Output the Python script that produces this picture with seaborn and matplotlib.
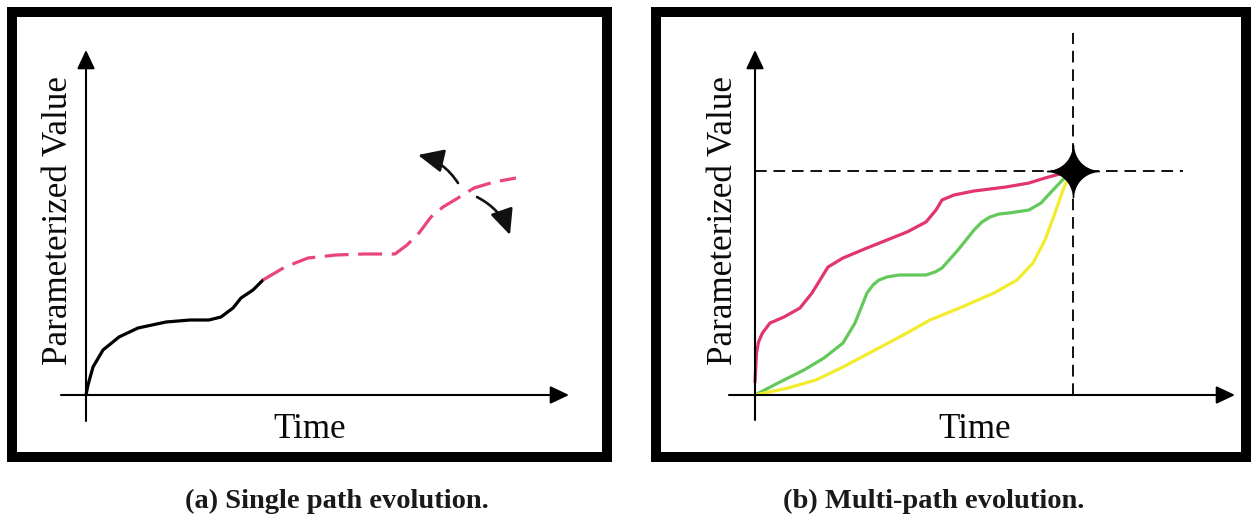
import numpy as np
import seaborn as sns
import matplotlib.pyplot as plt
from matplotlib.path import Path

# panel (a): one path, solid part is the history, dashed part is the prediction
hist_t = [0, 0.2, 0.7, 1.7, 3.3, 5.2, 8.0, 10.4, 12.3, 13.5, 14.7, 15.5, 16.7, 17.7]
hist_v = [0, 1.0, 2.8, 4.5, 5.8, 6.7, 7.3, 7.5, 7.5, 7.8, 8.7, 9.7, 10.5, 11.5]
pred_t = [17.7, 19.9, 22.2, 25.0, 27.8, 30.9, 32.1, 33.3, 34.5, 35.7, 37.2, 38.8, 40.8, 43.0]
pred_v = [11.5, 12.8, 13.7, 14.0, 14.1, 14.1, 15.0, 16.2, 17.8, 18.8, 19.7, 20.7, 21.3, 21.7]

# panel (b): three paths that end in the same target
red_t = [0.0, 0.15, 0.35, 0.74, 1.5, 2.9, 4.5, 5.7, 7.3, 8.8, 11.2, 13.2, 15.2, 17.1, 18.1,
         18.7, 19.9, 21.9, 25.1, 27.4, 29.0, 31.6]
red_v = [1.3, 4.2, 5.3, 6.2, 7.2, 7.8, 8.7, 10.2, 12.8, 13.7, 14.7, 15.5, 16.3, 17.3, 18.5,
         19.5, 20.0, 20.4, 20.8, 21.2, 21.7, 22.4]
green_t = [0, 2.5, 4.9, 6.9, 8.8, 10.0, 11.2, 11.8, 12.4, 13.2, 14.4, 17.1, 18.0, 18.7, 20.3,
           21.9, 22.7, 23.5, 24.4, 25.4, 27.4, 28.6, 29.8, 31.6]
green_v = [0, 1.3, 2.5, 3.7, 5.2, 7.2, 10.2, 11.0, 11.5, 11.8, 12.0, 12.0, 12.3, 12.7, 14.5,
           16.5, 17.3, 17.8, 18.1, 18.2, 18.5, 19.2, 20.5, 22.4]
yellow_t = [0, 3.3, 6.1, 8.8, 12.0, 15.2, 17.5, 20.7, 23.9, 26.2, 27.8, 29.0, 30.0, 30.8, 31.6]
yellow_v = [0, 0.7, 1.5, 2.8, 4.5, 6.2, 7.5, 8.8, 10.2, 11.5, 13.2, 15.5, 18.2, 20.5, 22.4]
target_t = 31.8
target_v = 22.4

captions = ["(a) Single path evolution.", "(b) Multi-path evolution."]

sns.set_theme(style="white")
plt.rcParams['font.family'] = ['Liberation Serif', 'DejaVu Serif']
plt.rcParams['lines.solid_joinstyle'] = 'round'
plt.rcParams['lines.solid_capstyle'] = 'round'

W, H = 1251, 515
fig = plt.figure(figsize=(W / 100, H / 100), dpi=100)
fig.patch.set_facecolor('white')


def make_panel(left, right, top, bottom, ox, oy):
    # frame centre lines in pixels, origin of the drawn axes in pixels
    ax = fig.add_axes([left / W, (H - bottom) / H, (right - left) / W, (bottom - top) / H])
    ax.set_xlim((left - ox) / 10, (right - ox) / 10)
    ax.set_ylim((oy - bottom) / 10, (oy - top) / 10)
    ax.set_xticks([])
    ax.set_yticks([])
    ax.set_facecolor('white')
    for sp in ax.spines.values():
        sp.set_visible(True)
        sp.set_color('black')
        sp.set_linewidth(7.2)
    return ax


def draw_axes(ax, x0, x1, y0, y1, ylab_x, time_x):
    head = dict(arrowstyle='-|>,head_length=0.95,head_width=0.45', lw=1.5,
                color='black', shrinkA=0, shrinkB=0, mutation_scale=12)
    ax.annotate('', xy=(x1, 0), xytext=(x0, 0), arrowprops=head)
    ax.annotate('', xy=(0, y1), xytext=(0, y0), arrowprops=head)
    ax.text(ylab_x, 17.5, 'Parameterized Value', rotation=90, fontsize=25.2,
            ha='center', va='center', color='#0a0a0a')
    ax.text(time_x, -4.3, 'Time', fontsize=25.2, ha='center', va='baseline',
            color='#0a0a0a')


# ---- panel (a)
ax1 = make_panel(12, 607, 12, 457, 86, 395)
draw_axes(ax1, -2.5, 48.3, -2.6, 34.5, -2.75, 22.4)
sns.lineplot(x=hist_t, y=hist_v, ax=ax1, color='black', lw=2.3,
             estimator=None, sort=False)
sns.lineplot(x=pred_t, y=pred_v, ax=ax1, color='#e8457c', lw=2.3,
             estimator=None, sort=False)
ax1.lines[-1].set_dashes((7.5, 3.0))
ax1.lines[-1].set_dash_capstyle('butt')

bend = dict(arrowstyle='-|>,head_length=1.2,head_width=0.55', lw=1.9,
            color='#111111', shrinkA=0, shrinkB=0, mutation_scale=13)
ax1.annotate('', xy=(33.2, 24.0), xytext=(37.2, 21.2),
             arrowprops=dict(bend, connectionstyle='arc3,rad=0.2'))
ax1.annotate('', xy=(42.4, 16.0), xytext=(39.1, 19.8),
             arrowprops=dict(bend, connectionstyle='arc3,rad=-0.2'))

# ---- panel (b)
ax2 = make_panel(656, 1245.5, 12, 457, 755, 395)
draw_axes(ax2, -2.6, 48.0, -2.5, 34.5, -3.1, 22.0)

ax2.plot([target_t, target_t], [0, 36.2], color='#111111', lw=1.4, dashes=(6, 3.5))
ax2.plot([0, 42.8], [target_v, target_v], color='#111111', lw=1.4, dashes=(6, 3.5))

sns.lineplot(x=red_t, y=red_v, ax=ax2, color='#e2356b', lw=2.3, estimator=None, sort=False)
sns.lineplot(x=green_t, y=green_v, ax=ax2, color='#62c95a', lw=2.3, estimator=None, sort=False)
sns.lineplot(x=yellow_t, y=yellow_v, ax=ax2, color='#f2ec2c', lw=2.3, estimator=None, sort=False)

# four point star for the target
ang = np.linspace(0, 2 * np.pi, 200)
cs, sn = np.cos(ang), np.sin(ang)
star = Path(np.column_stack([np.sign(cs) * np.abs(cs) ** 3.5, np.sign(sn) * np.abs(sn) ** 3.5]))
ax2.plot([target_t], [target_v], marker=star, ms=37.5, color='black', mec='black',
         ls='none', zorder=5)

# captions
fig.text(336.5 / W, (H - 508) / H, captions[0], fontsize=20.5, fontweight='bold',
         ha='center', va='baseline', color='#1a1a1a')
fig.text(934 / W, (H - 508) / H, captions[1], fontsize=20.5, fontweight='bold',
         ha='center', va='baseline', color='#1a1a1a')

fig.savefig('out.png', dpi=100, facecolor='white')
